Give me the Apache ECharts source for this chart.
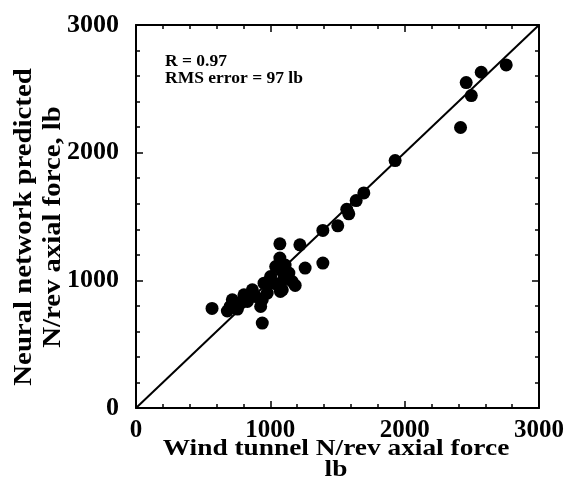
<!DOCTYPE html>
<html>
<head>
<meta charset="utf-8">
<script src="https://cdn.jsdelivr.net/npm/echarts@6/dist/echarts.min.js"></script>
<style>
  html, body { margin: 0; padding: 0; background: #fff; }
  #chart { width: 569px; height: 496px; }
</style>
</head>
<body>
<div id="chart"></div>
<script>
// Wind tunnel measured vs. neural network predicted N/rev axial force (lb)
const windTunnel = [566, 680, 700, 717, 735, 755, 780, 804, 829, 866, 891, 928, 940, 940, 953, 977,
  1002, 1027, 1040, 1064, 1071, 1071, 1075, 1089, 1089, 1100, 1138, 1163, 1185, 1110, 1220, 1259,
  1391, 1391, 1502, 1569, 1584, 1639, 1696, 1929, 2416, 2458, 2496, 2570, 2756];
const predicted = [780, 760, 795, 848, 810, 775, 822, 887, 834, 926, 873, 795, 848, 665, 978, 900,
  1030, 978, 1108, 952, 1174, 1286, 913, 1069, 926, 1010, 1057, 991, 960, 1120, 1278, 1096,
  1391, 1135, 1427, 1557, 1521, 1625, 1685, 1938, 2197, 2549, 2447, 2630, 2687];

// Line of perfect agreement (y = x)
const perfectFit = [0, 3000];

// Axis range and tick spacing
const axisMin = 0;
const axisMax = 3000;
const majorStep = 1000;

const statsText = ['R = 0.97', 'RMS error = 97 lb'];
const xTitle = ['Wind tunnel N/rev axial force', 'lb'];
const yTitle = ['Neural network predicted', 'N/rev axial force, lb'];

const points = windTunnel.map((x, i) => [x, predicted[i]]);
const diagonal = perfectFit.map(v => [v, v]);

const serif = '"Liberation Serif", "Times New Roman", serif';
const plain = v => String(v);

function valueAxis(extra) {
  return Object.assign({
    type: 'value',
    min: axisMin,
    max: axisMax,
    interval: majorStep,
    axisLine: { show: true, onZero: false, lineStyle: { color: '#000', width: 2 } },
    axisTick: { show: true, inside: true, length: 7, lineStyle: { color: '#000', width: 1.5 } },
    minorTick: { show: true, splitNumber: 5, length: 4, lineStyle: { color: '#000', width: 1.5 } },
    splitLine: { show: false },
    minorSplitLine: { show: false }
  }, extra);
}

const chart = echarts.init(document.getElementById('chart'), null, { renderer: 'canvas' });

chart.setOption({
  animation: false,
  backgroundColor: '#fff',
  grid: { left: 136, top: 25, width: 403, height: 383 },
  xAxis: [
    valueAxis({
      position: 'bottom',
      axisLabel: {
        color: '#000', fontFamily: serif, fontWeight: 'bold', fontSize: 25, margin: 10,
        formatter: plain
      }
    }),
    valueAxis({ position: 'top', axisLabel: { show: false } })
  ],
  yAxis: [
    valueAxis({
      position: 'left',
      axisLabel: {
        color: '#000', fontFamily: serif, fontWeight: 'bold', fontSize: 26, margin: 17,
        formatter: plain
      }
    }),
    valueAxis({ position: 'right', axisLabel: { show: false } })
  ],
  series: [
    {
      type: 'line',
      data: diagonal,
      showSymbol: false,
      symbol: 'none',
      lineStyle: { color: '#000', width: 2 },
      silent: true,
      z: 2
    },
    {
      type: 'scatter',
      data: points,
      symbol: 'circle',
      symbolSize: 13,
      itemStyle: { color: '#000', opacity: 1 },
      z: 3
    }
  ],
  graphic: [
    {
      type: 'text',
      x: 165,
      y: 69.7,
      style: {
        text: statsText.join('\n'),
        fontFamily: serif,
        fontWeight: 'bold',
        fontSize: 17.5,
        lineHeight: 17,
        fill: '#000',
        align: 'left',
        verticalAlign: 'middle'
      }
    },
    {
      type: 'text',
      x: 336,
      y: 459.7,
      scaleX: 1.14,
      style: {
        text: xTitle.join('\n'),
        fontFamily: serif,
        fontWeight: 'bold',
        fontSize: 24,
        lineHeight: 21,
        fill: '#000',
        align: 'center',
        verticalAlign: 'middle'
      }
    },
    {
      type: 'text',
      x: 39,
      y: 227,
      rotation: Math.PI / 2,
      scaleX: 1.15,
      style: {
        text: yTitle.join('\n'),
        fontFamily: serif,
        fontWeight: 'bold',
        fontSize: 25,
        lineHeight: 28.5,
        fill: '#000',
        align: 'center',
        verticalAlign: 'middle'
      }
    }
  ]
});
</script>
</body>
</html>
